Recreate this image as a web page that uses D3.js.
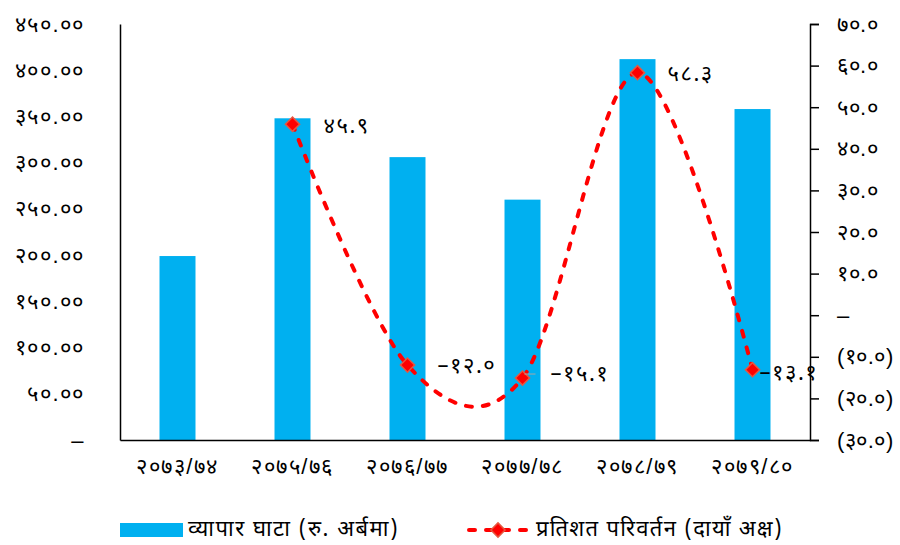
<!DOCTYPE html>
<html><head><meta charset="utf-8">
<script src="https://cdn.jsdelivr.net/npm/d3@7"></script>
<style>
body{margin:0;background:#fff;}
svg{display:block;font-family:"Noto Sans Devanagari","Noto Sans","DejaVu Sans",sans-serif;}
</style></head><body>
<svg id="c" width="900" height="545"></svg>
<script>
const categories = ["२०७३/७४","२०७५/७६","२०७६/७७","२०७७/७८","२०७८/७९","२०७९/८०"];
const deficit = [199, 348, 306, 260, 412, 358];
const pctChange = [null, 45.9, -12.0, -15.1, 58.3, -13.1];
const pctLabels = [null, "४५.९", "–१२.०", "–१५.१", "५८.३", "–१३.१"];
const leftTicks = [0,50,100,150,200,250,300,350,400,450];
const leftTickLabels = ["–","५०.००","१००.००","१५०.००","२००.००","२५०.००","३००.००","३५०.००","४००.००","४५०.००"];
const rightTicks = [-30,-20,-10,0,10,20,30,40,50,60,70];
const rightTickLabels = ["(३०.०)","(२०.०)","(१०.०)","–","१०.०","२०.०","३०.०","४०.०","५०.०","६०.०","७०.०"];
const legendLabels = ["व्यापार घाटा (रु. अर्बमा)","प्रतिशत परिवर्तन (दायाँ अक्ष)"];

const svg = d3.select("#c");
const L = 120, R = 810, T = 24, B = 440;
const FS = 22, LS = 1.5;
const x = d3.scaleBand().domain(categories).range([L, R]).paddingInner(0.687).paddingOuter(0.3435);
const yL = d3.scaleLinear().domain([0, 450]).range([B, T]);
const yR = d3.scaleLinear().domain([-30, 70]).range([B, T]);
const blue = "#00B0F0", red = "#FF0000";

// bars
svg.append("g").selectAll("rect").data(deficit).join("rect")
  .attr("x", (d,i) => x(categories[i])).attr("width", x.bandwidth())
  .attr("y", d => yL(d)).attr("height", d => B - yL(d)).attr("fill", blue);

// left axis
const gl = svg.append("g").attr("transform", `translate(${L},0)`)
  .call(d3.axisLeft(yL).tickValues(leftTicks).tickSize(0).tickPadding(35).tickFormat((d,i)=>leftTickLabels[i]));
gl.select(".domain").attr("stroke","#000").attr("stroke-width",1.5);
gl.selectAll("text").attr("font-size",FS).attr("letter-spacing",LS).attr("fill","#000");

// right axis
const gr = svg.append("g").attr("transform", `translate(${R},0)`)
  .call(d3.axisRight(yR).tickValues(rightTicks).tickSize(9).tickPadding(18).tickFormat((d,i)=>rightTickLabels[i]));
gr.select(".domain").attr("stroke","#000").attr("stroke-width",1.5);
gr.selectAll("line").attr("stroke","#000").attr("stroke-width",1.5);
gr.selectAll("text").attr("font-size",FS).attr("letter-spacing",0.5).attr("fill","#000");

// bottom axis
const gb = svg.append("g").attr("transform", `translate(0,${B})`)
  .call(d3.axisBottom(x).tickSize(0).tickPadding(18).tickSizeOuter(0));
gb.select(".domain").attr("stroke","#000").attr("stroke-width",1.5);
gb.selectAll("text").attr("font-size",FS).attr("letter-spacing",LS).attr("fill","#000");

// line
const pts = pctChange.map((v,i)=>({v,c:categories[i],lab:pctLabels[i]})).filter(d=>d.v!==null);
const cx = d => x(d.c) + x.bandwidth()/2;
const line = d3.line().x(cx).y(d=>yR(d.v)).curve(d3.curveCardinal.tension(0));
svg.append("path").datum(pts).attr("d", line).attr("fill","none")
  .attr("stroke", red).attr("stroke-width",4).attr("stroke-linecap","round").attr("stroke-dasharray","6,11");

const sym = d3.symbol().type(d3.symbolSquare).size(100);
svg.append("g").selectAll("path").data(pts).join("path")
  .attr("transform", d => `translate(${cx(d)},${yR(d.v)}) rotate(45)`)
  .attr("d", sym).attr("fill", red).attr("stroke","#e8563f").attr("stroke-width",1.5);

// leader line for -15.1
const p3 = pts.find(d=>d.c===categories[3]);
svg.append("line").attr("x1", cx(p3)+2).attr("x2", cx(p3)+13)
  .attr("y1", yR(p3.v)-4).attr("y2", yR(p3.v)-4).attr("stroke","#a6a6a6").attr("stroke-width",1);

const labOff = {1:[31,9],2:[30,8],3:[28,3],4:[30,8],5:[7,10]};
svg.append("g").selectAll("text").data(pts).join("text")
  .attr("x", d => cx(d) + labOff[categories.indexOf(d.c)][0])
  .attr("y", d => yR(d.v) + labOff[categories.indexOf(d.c)][1])
  .attr("font-size",FS).attr("letter-spacing",LS).attr("fill","#000").text(d=>d.lab);

// legend
const lg = svg.append("g");
lg.append("rect").attr("x",120).attr("y",523).attr("width",63).attr("height",14).attr("fill",blue);
lg.append("text").attr("x",188).attr("y",536).attr("font-size",22).attr("letter-spacing",1.5).text(legendLabels[0]);
lg.append("line").attr("x1",469).attr("x2",529).attr("y1",530).attr("y2",530)
  .attr("stroke",red).attr("stroke-width",4).attr("stroke-linecap","round").attr("stroke-dasharray","6,11");
lg.append("path").attr("transform","translate(498,530) rotate(45)")
  .attr("d", sym).attr("fill",red).attr("stroke","#e8563f").attr("stroke-width",1.5);
lg.append("text").attr("x",536).attr("y",536).attr("font-size",22).attr("letter-spacing",1.3).text(legendLabels[1]);
</script>
</body></html>
